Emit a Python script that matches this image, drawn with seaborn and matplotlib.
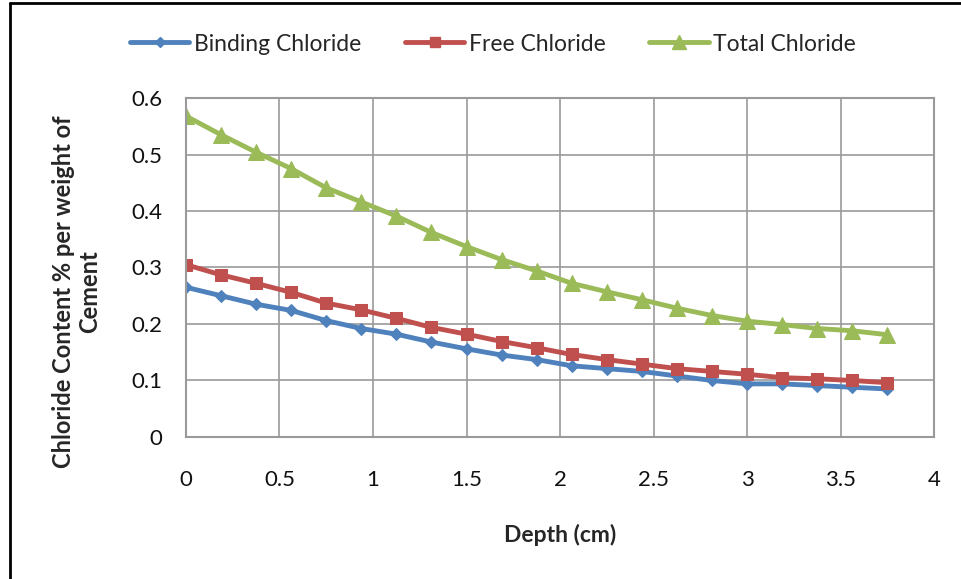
import matplotlib
matplotlib.use("Agg")
import matplotlib.pyplot as plt
import seaborn as sns
import pandas as pd
from matplotlib.lines import Line2D

depth = [0.0, 0.1875, 0.375, 0.5625, 0.75, 0.9375, 1.125, 1.3125, 1.5, 1.6875,
         1.875, 2.0625, 2.25, 2.4375, 2.625, 2.8125, 3.0, 3.1875, 3.375, 3.5625, 3.75]
binding = [0.265, 0.250, 0.235, 0.224, 0.206, 0.192, 0.182, 0.168, 0.156, 0.145,
           0.137, 0.126, 0.121, 0.116, 0.108, 0.100, 0.094, 0.094, 0.091, 0.088, 0.085]
free = [0.305, 0.287, 0.272, 0.256, 0.237, 0.225, 0.210, 0.194, 0.182, 0.169,
        0.158, 0.146, 0.137, 0.129, 0.121, 0.116, 0.111, 0.105, 0.103, 0.100, 0.096]
total = [0.568, 0.535, 0.504, 0.475, 0.441, 0.416, 0.391, 0.362, 0.337, 0.314,
         0.294, 0.272, 0.257, 0.243, 0.228, 0.215, 0.205, 0.199, 0.192, 0.188, 0.181]

series_names = ["Binding Chloride", "Free Chloride", "Total Chloride"]
x_ticks = [0, 0.5, 1, 1.5, 2, 2.5, 3, 3.5, 4]
y_ticks = [0, 0.1, 0.2, 0.3, 0.4, 0.5, 0.6]

df = pd.DataFrame({"Depth": depth * 3,
                   "Value": binding + free + total,
                   "Series": [s for s in series_names for _ in depth]})

sns.set_theme(style="white")
plt.rcParams["font.family"] = ["Lato", "DejaVu Sans"]

colors = {"Binding Chloride": "#4F81BD", "Free Chloride": "#C0504D", "Total Chloride": "#9BBB59"}
markers = {"Binding Chloride": "D", "Free Chloride": "s", "Total Chloride": "^"}
msizes = {"Binding Chloride": 6, "Free Chloride": 9, "Total Chloride": 12}

fig = plt.figure(figsize=(9.61, 5.79), dpi=100)
ax = fig.add_axes([0.1935, 0.2453, 0.7785, 0.5854])

for name in series_names:
    sub = df[df["Series"] == name]
    sns.lineplot(data=sub, x="Depth", y="Value", ax=ax, color=colors[name],
                 linewidth=3.5, marker=markers[name], markersize=msizes[name],
                 markeredgecolor=colors[name], label=name, legend=False)

ax.set_xlim(0, 4)
ax.set_ylim(0, 0.6)
ax.set_xticks(x_ticks)
ax.set_xticklabels([f"{t:g}" for t in x_ticks])
ax.set_yticks(y_ticks)
ax.set_yticklabels([f"{t:g}" for t in y_ticks])
ax.grid(True, color="#9a9a9a", linewidth=1.2)
for sp in ax.spines.values():
    sp.set_color("#9a9a9a")
    sp.set_linewidth(1.5)
ax.tick_params(axis="both", length=0, labelsize=16, colors="#111111")
ax.tick_params(axis="x", pad=24)
ax.tick_params(axis="y", pad=17)

ax.set_xlabel("Depth (cm)", fontsize=16.5, fontweight="bold", labelpad=24)
ax.set_ylabel("Chloride Content % per weight of\nCement", fontsize=17,
              fontweight="bold", linespacing=1.2)
ax.yaxis.set_label_coords(-0.113, 0.43)

handles = [Line2D([0], [0], color=colors[n], linewidth=3.5, marker=markers[n],
                  markersize=msizes[n] * 0.85, markeredgecolor=colors[n])
           for n in series_names]
fig.legend(handles, series_names, loc="center", bbox_to_anchor=(0.513, 0.924),
           ncol=3, frameon=False, fontsize=16.5, handlelength=2.6,
           handletextpad=0.2, columnspacing=1.9)

# frame line along the top and left edge of the figure
fig.add_artist(Line2D([0.0099, 1.0], [0.9948, 0.9948], transform=fig.transFigure,
                      color="black", linewidth=2))
fig.add_artist(Line2D([0.0099, 0.0099], [0.0, 0.9948], transform=fig.transFigure,
                      color="black", linewidth=2))

fig.savefig("out.png", dpi=100, facecolor="white")
